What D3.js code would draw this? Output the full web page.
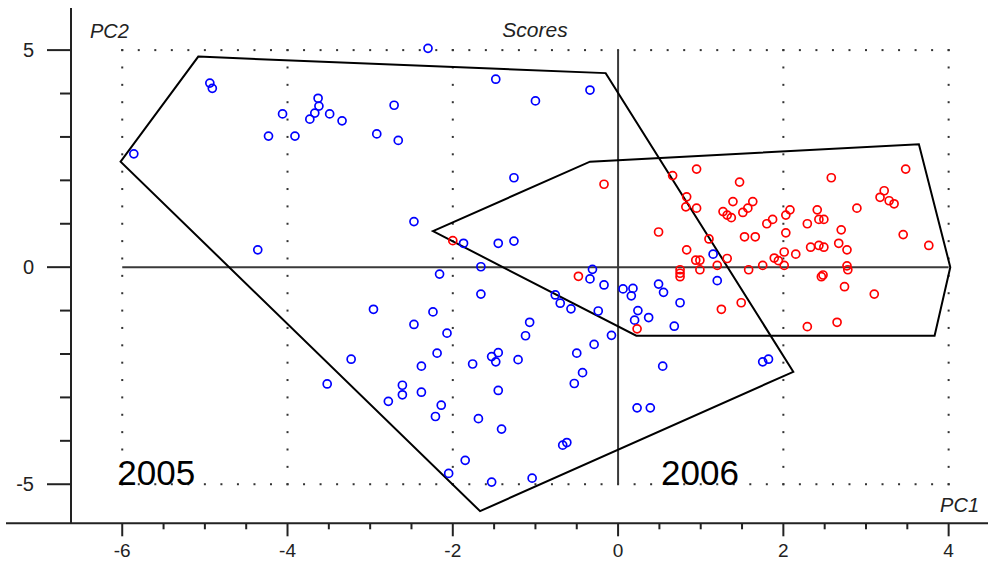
<!DOCTYPE html>
<html>
<head>
<meta charset="utf-8">
<script src="https://cdn.jsdelivr.net/npm/d3@7"></script>
<style>
  html, body { margin: 0; padding: 0; background: #fff; }
  svg { display: block; }
  text { font-family: "Liberation Sans", Arial, sans-serif; }
</style>
</head>
<body>
<svg id="chart" width="988" height="562"></svg>
<script>
// ---- data (PC1, PC2 scores) ----
const scores2005 = [
  [-4.94,4.24],[-4.91,4.12],[-5.86,2.61],[-4.06,3.53],[-4.23,3.02],[-3.91,3.02],
  [-3.63,3.89],[-3.62,3.71],[-3.67,3.55],[-3.73,3.41],[-3.49,3.53],[-3.34,3.37],
  [-4.36,0.40],[-2.30,5.04],[-1.48,4.33],[-1.00,3.83],[-0.34,4.08],[-2.71,3.73],
  [-2.92,3.07],[-2.66,2.92],[-1.26,2.06],[-2.47,1.05],[-1.87,0.55],[-1.45,0.55],
  [-1.26,0.60],[-2.16,-0.16],[-1.66,0.01],[-1.66,-0.62],[-2.96,-0.97],[-2.24,-1.03],
  [-2.47,-1.32],[-2.07,-1.52],[-2.19,-1.98],[-3.23,-2.12],[-2.38,-2.28],[-1.76,-2.23],
  [-3.52,-2.69],[-2.61,-2.72],[-2.61,-2.94],[-2.78,-3.09],[-2.38,-2.88],[-2.14,-3.18],
  [-2.21,-3.44],[-1.69,-3.49],[-1.85,-4.45],[-2.05,-4.75],[-1.45,-1.97],[-1.53,-2.06],
  [-1.48,-2.18],[-1.21,-2.13],[-0.31,-0.05],[-0.34,-0.27],[-0.17,-0.41],[-0.76,-0.64],
  [-0.70,-0.83],[-0.57,-0.96],[-0.24,-1.01],[0.06,-0.50],[0.18,-0.49],[0.16,-0.66],
  [0.49,-0.39],[0.55,-0.58],[0.75,-0.82],[0.24,-1.00],[0.20,-1.22],[0.37,-1.16],
  [0.68,-1.36],[-0.08,-1.57],[-0.29,-1.78],[-0.50,-1.98],[-1.07,-1.27],[-1.12,-1.58],
  [-0.43,-2.43],[-0.53,-2.68],[-1.45,-2.84],[-1.41,-3.73],[0.54,-2.28],[0.23,-3.24],
  [0.39,-3.24],[1.75,-2.18],[1.82,-2.12],[1.15,0.30],[1.20,-0.31],[-0.67,-4.10],
  [-0.62,-4.04],[-1.53,-4.95],[-1.04,-4.86]
];
const scores2006 = [
  [0.95,2.26],[0.66,2.11],[1.47,1.96],[2.58,2.06],[3.48,2.26],[0.83,1.62],
  [0.82,1.39],[0.95,1.36],[1.39,1.51],[1.63,1.51],[1.57,1.36],[1.51,1.26],
  [1.27,1.28],[1.32,1.20],[1.37,1.14],[1.80,1.00],[1.87,1.10],[2.03,1.20],
  [2.08,1.32],[2.29,1.00],[2.41,1.32],[2.43,1.10],[2.49,1.10],[2.70,0.86],
  [2.89,1.36],[3.17,1.61],[3.22,1.76],[3.28,1.53],[3.34,1.46],[3.45,0.75],
  [3.76,0.50],[0.49,0.81],[1.10,0.65],[0.83,0.40],[1.53,0.70],[1.66,0.70],
  [2.03,0.79],[2.01,0.35],[2.15,0.30],[2.33,0.46],[2.43,0.50],[2.49,0.46],
  [2.67,0.55],[2.77,0.40],[1.32,0.20],[0.94,0.16],[0.99,0.16],[0.99,-0.06],
  [1.20,0.04],[0.75,-0.06],[0.75,-0.14],[0.75,-0.22],[1.58,-0.06],[1.75,0.04],
  [1.89,0.21],[1.94,0.15],[2.01,0.04],[2.77,0.03],[2.78,-0.06],[2.46,-0.22],
  [2.48,-0.18],[2.74,-0.45],[3.10,-0.62],[1.49,-0.82],[1.25,-0.97],[2.29,-1.37],
  [2.65,-1.27],[0.23,-1.42],[-0.17,1.91],[-2.00,0.61],[-0.48,-0.21]
];
const hull2005 = [[-5.08,4.85],[-0.15,4.47],[2.12,-2.41],[-1.67,-5.62],[-6.02,2.43]];
const hull2006 = [[-2.24,0.83],[-0.34,2.43],[3.64,2.83],[4.02,0.00],[3.83,-1.58],[0.22,-1.58]];
const groupLabels = [{text:"2005", x:-6.06, y:-5.0}, {text:"2006", x:0.52, y:-5.0}];
const xTicks = [-6,-4,-2,0,2,4];
const yTicks = [-5,0,5];
const gridX = [-6,-4,-2,2,4];
const gridY = [-5,5];

// ---- scales ----
const x = d3.scaleLinear().domain([-6.62, 4.44]).range([71, 985]);
const y = d3.scaleLinear().domain([-5.9, 5.97]).range([523.3, 8]);

const svg = d3.select("#chart");

// ---- dotted grid ----
const dots = svg.append("g").attr("fill", "#333");
gridX.forEach(gx => {
  d3.range(-5, 5.0001, 0.4).forEach(v => {
    dots.append("rect").attr("x", x(gx) - 1).attr("y", y(v) - 1).attr("width", 2).attr("height", 2);
  });
});
gridY.forEach(gy => {
  d3.range(-6, 4.0001, 0.2).forEach(v => {
    dots.append("rect").attr("x", x(v) - 1).attr("y", y(gy) - 1).attr("width", 2).attr("height", 2);
  });
});

// ---- zero lines ----
svg.append("line").attr("x1", x(-6)).attr("x2", x(4)).attr("y1", y(0)).attr("y2", y(0))
  .attr("stroke", "#3a3a3a").attr("stroke-width", 2);
svg.append("line").attr("x1", x(0)).attr("x2", x(0)).attr("y1", y(5)).attr("y2", y(-5))
  .attr("stroke", "#3a3a3a").attr("stroke-width", 2);

// ---- hull polygons ----
const line = d3.line().x(d => x(d[0])).y(d => y(d[1])).curve(d3.curveLinearClosed);
[hull2005, hull2006].forEach(h => {
  svg.append("path").attr("d", line(h)).attr("fill", "none")
    .attr("stroke", "#000").attr("stroke-width", 2).attr("stroke-linejoin", "miter");
});

// ---- points ----
function drawPts(data, color) {
  svg.append("g").selectAll("circle").data(data).join("circle")
    .attr("cx", d => x(d[0])).attr("cy", d => y(d[1])).attr("r", 4)
    .attr("fill", "none").attr("stroke", color).attr("stroke-width", 1.7);
}
drawPts(scores2005, "#0000ff");
drawPts(scores2006, "#ff0000");

// ---- axes ----
const xAxisG = svg.append("g").attr("transform", `translate(0,${y(-5.9)})`);
xAxisG.append("line").attr("x1", 6).attr("x2", 988).attr("y1", 0).attr("y2", 0)
  .attr("stroke", "#222").attr("stroke-width", 2);
d3.range(-6, 4.4, 0.5).forEach(v => {
  const major = xTicks.includes(v);
  xAxisG.append("line").attr("x1", x(v)).attr("x2", x(v)).attr("y1", 0).attr("y2", major ? 13 : 6)
    .attr("stroke", "#222").attr("stroke-width", 2);
});
xAxisG.selectAll("text.tl").data(xTicks).join("text").attr("class", "tl")
  .attr("x", d => x(d)).attr("y", 34).attr("text-anchor", "middle")
  .attr("font-size", 19).attr("fill", "#222").text(d => d);

const yAxisG = svg.append("g").attr("transform", `translate(${x(-6.62)},0)`);
yAxisG.append("line").attr("x1", 0).attr("x2", 0).attr("y1", 8).attr("y2", y(-5.9))
  .attr("stroke", "#222").attr("stroke-width", 2);
d3.range(-5, 5.01, 1).forEach(v => {
  const major = yTicks.includes(v);
  yAxisG.append("line").attr("x1", major ? -24 : -11).attr("x2", 0).attr("y1", y(v)).attr("y2", y(v))
    .attr("stroke", "#222").attr("stroke-width", 2);
});
yAxisG.selectAll("text.tl").data(yTicks).join("text").attr("class", "tl")
  .attr("x", -37).attr("y", d => y(d) + 7).attr("text-anchor", "end")
  .attr("font-size", 20).attr("fill", "#222").text(d => d);

// ---- titles ----
svg.append("text").attr("x", 90).attr("y", 38).attr("font-size", 20).attr("font-style", "italic")
  .attr("fill", "#222").text("PC2");
svg.append("text").attr("x", 535).attr("y", 37).attr("font-size", 21).attr("font-style", "italic")
  .attr("text-anchor", "middle").attr("fill", "#222").text("Scores");
svg.append("text").attr("x", 979).attr("y", 512).attr("font-size", 20).attr("font-style", "italic")
  .attr("text-anchor", "end").attr("fill", "#222").text("PC1");

svg.selectAll("text.grp").data(groupLabels).join("text").attr("class", "grp")
  .attr("x", d => x(d.x)).attr("y", d => y(d.y) + 1)
  .attr("font-size", 35).attr("fill", "#000").text(d => d.text);
</script>
</body>
</html>
